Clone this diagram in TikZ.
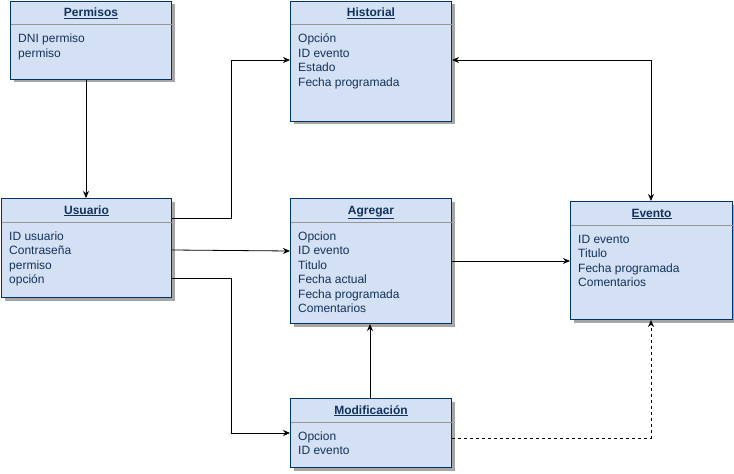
\documentclass[tikz,border=0pt]{standalone}
\usepackage{fontspec}
\setmainfont{Liberation Sans}
\usetikzlibrary{arrows.meta,calc,shadows}
\definecolor{entline}{RGB}{0,51,102}
\definecolor{enttext}{RGB}{18,50,92}
\definecolor{entfill}{HTML}{D4E1F5}
\definecolor{sepgray}{RGB}{150,150,150}
\tikzset{
  ent/.style={draw=entline, fill=entfill, line width=1pt, inner sep=0pt, anchor=north west,
    drop shadow={shadow xshift=3pt, shadow yshift=-3pt, fill=black!35, opacity=1}},
  sepline/.style={draw=sepgray, line width=0.8pt},
  ttl/.style={font=\fontsize{12}{14}\selectfont\bfseries, text=enttext, inner sep=0pt},
  fld/.style={font=\fontsize{12}{14}\selectfont, text=enttext, inner sep=0pt},
  link/.style={draw=black, line width=0.8pt, -{Stealth[length=7pt,width=6pt]}},
  biglink/.style={draw=black, line width=0.8pt, {Stealth[length=7pt,width=6pt]}-{Stealth[length=7pt,width=6pt]}},
}
% entity box: name, x, y, width, height, title, list of fields
\newcommand\entity[7]{%
  \node[ent, minimum width=#4pt, minimum height=#5pt] (#1) at (#2,#3) {};
  \draw[sepline] ($(#1.north west)+(0.5pt,-24pt)$) -- ($(#1.north east)+(-0.5pt,-24pt)$);
  \node[ttl, anchor=base] (#1-t) at ($(#1.north)+(0,-16pt)$) {\underline{#6}};
  \foreach \l [count=\i] in {#7}
    \node[fld, anchor=base west] (#1-\i) at ($(#1.north west)+(8pt,-27.5pt-14.5pt*\i)$) {\l};
}
\begin{document}
\begin{tikzpicture}[x=1pt,y=-1pt]
\useasboundingbox (0,0) rectangle (734,474);

\entity{perm}{10}{0.5}{161}{78}{Permisos}{DNI permiso,permiso}
\entity{hist}{290}{0.5}{161}{120}{Historial}{Opción,ID evento,Estado,Fecha programada}
\entity{usu}{1}{198}{170}{99}{Usuario}{ID usuario,Contraseña,permiso,opción}
\entity{agr}{290}{198}{161}{125}{Agregar}{Opcion,ID evento,Titulo,Fecha actual,Fecha programada,Comentarios}
\entity{evt}{570}{201}{162}{118}{Evento}{ID evento,Titulo,Fecha programada,Comentarios}
\entity{mod}{290}{398}{161}{69}{Modificación}{Opcion,ID evento}

% connectors
\draw[link] (perm.south -| 86,0) -- (usu.north -| 86,0);
\draw[link] (usu.east |- 0,218) -- (231,218) |- (hist.west |- 0,60);
\draw[link] (usu.east |- 0,250) -- (agr.west |- 0,251);
\draw[link] (usu.east |- 0,278) -- (231,278) |- (mod.west |- 0,433);
\draw[biglink] (hist.east |- 0,60) -| (evt.north -| 651,0);
\draw[link] (agr.east |- 0,261) -- (evt.west |- 0,261);
\draw[link] (mod.north -| 370,0) -- (agr.south -| 370,0);
\draw[link, dashed] (mod.east |- 0,438) -| (evt.south -| 651,0);
\end{tikzpicture}
\end{document}
